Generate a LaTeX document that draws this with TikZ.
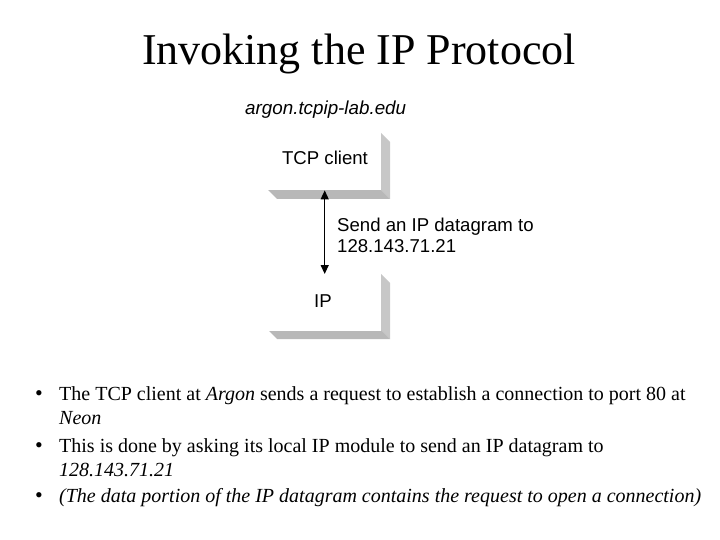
\documentclass[tikz,border=0pt]{standalone}
\usepackage{fontspec}
\setmainfont{Liberation Serif}
\newfontfamily\arialf{Liberation Sans}
\usetikzlibrary{arrows.meta}
\tikzset{
  face/.style={fill=white, draw=none, minimum width=113pt, minimum height=57pt, inner sep=0pt},
  rbevel/.style={fill=black!22, draw=none},
  bbevel/.style={fill=black!28, draw=none},
  sans/.style={font=\arialf\fontsize{18.6}{22}\selectfont, inner sep=0pt},
  bul/.style={font=\fontsize{20}{24}\selectfont, inner sep=0pt, anchor=base west},
  dot/.style={font=\fontsize{22}{26}\selectfont, inner sep=0pt, anchor=base},
  link/.style={line width=1.3pt, {Triangle[length=9pt,width=8pt]}-{Triangle[length=9pt,width=8pt]}}
}
\begin{document}
\begin{tikzpicture}[x=1pt,y=-1pt]
\useasboundingbox (0,0) rectangle (720,540);
% title
\node[inner sep=0pt, anchor=base, font=\fontsize{44}{50}\selectfont] (title) at (359,65) {Invoking the IP Protocol};
% host name
\node[sans, anchor=base west, font=\arialf\itshape\fontsize{18.8}{22}\selectfont] (host) at (245,115) {argon.tcpip-lab.edu};
% TCP box
\fill[rbevel] (381,133) -- (390,142) -- (390,199) -- (381,190) -- cycle;
\fill[bbevel] (268,190) -- (381,190) -- (390,199) -- (277,199) -- cycle;
\node[face, anchor=north west] (tcp) at (268,133) {};
\node[sans, anchor=base] (tcplabel) at (325,165) {TCP client};
% IP box
\fill[rbevel] (381,274) -- (390,283) -- (390,339) -- (381,330) -- cycle;
\fill[bbevel] (268,330) -- (381,330) -- (390,339) -- (277,339) -- cycle;
\node[face, anchor=north west] (ip) at (268,274) {};
\node[sans, anchor=base] (iplabel) at (323,307.5) {IP};
% arrow
\draw[link] (tcp.south) -- (ip.north);
\node[sans, anchor=base west, align=left] (send) at (337,231.5) {Send an IP datagram to};
\node[sans, anchor=base west] (addr) at (337,252.5) {128.143.71.21};
% bullets
\node[dot] (d1) at (39,400) {\textbullet};
\node[bul] (b1) at (59,400) {The TCP client at \textit{Argon} sends a request to establish a connection to port 80 at};
\node[bul] (b1b) at (59,424) {\textit{Neon}};
\node[dot] (d2) at (39,452.5) {\textbullet};
\node[bul] (b2) at (59,452.5) {This is done by asking its local IP module to send an IP datagram to};
\node[bul] (b2b) at (59,476.5) {\textit{128.143.71.21}};
\node[dot] (d3) at (39,502.5) {\textbullet};
\node[bul] (b3) at (59,502.5) {\textit{(The data portion of the IP datagram contains the request to open a connection)}};
\end{tikzpicture}
\end{document}
